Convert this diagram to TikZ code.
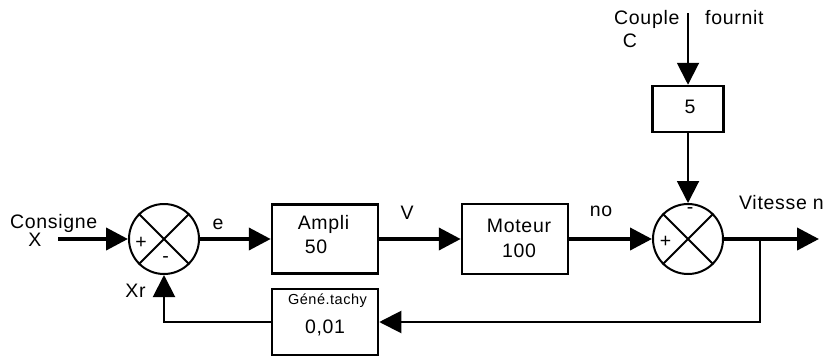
\documentclass[tikz,border=0pt]{standalone}
\usepackage{fontspec}
\setmainfont[LetterSpace=3.5]{Liberation Sans}
\usetikzlibrary{arrows.meta}
\begin{document}
\begin{tikzpicture}[x=1pt,y=-1pt,
  every node/.style={font=\fontsize{19.5}{22}\selectfont, inner sep=0pt},
  blk/.style={draw, line width=2.5pt, rectangle},
  summ/.style={draw, circle, line width=2pt, minimum size=70pt},
  thickline/.style={line width=4pt, -{Triangle[length=22pt,width=22pt]}},
  thinline/.style={line width=2pt, -{Triangle[length=22pt,width=22pt]}},
  lbl/.style={anchor=base},
  smalllbl/.style={anchor=base, font=\fontsize{14.5}{17}\selectfont}]
\useasboundingbox (0,0) rectangle (826,356);

% blocks
\node[blk, minimum width=106pt, minimum height=69pt] (ampli) at (325,239) {};
\node[blk, minimum width=106pt, minimum height=70pt] (moteur) at (515,239) {};
\node[blk, minimum width=71pt, minimum height=46pt] (b5) at (688,109) {};
\node[blk, minimum width=106pt, minimum height=66pt] (gene) at (325,322) {};

% summators
\node[summ] (s1) at (164,239) {};
\draw[line width=2pt] (s1.45) -- (s1.225) (s1.135) -- (s1.315);
\node[summ] (s2) at (688,239) {};
\draw[line width=2pt] (s2.45) -- (s2.225) (s2.135) -- (s2.315);

% coordinates
\coordinate (in) at (58,239);
\coordinate (out) at (819,239);
\coordinate (br) at (760,239);
\coordinate (ctop) at (688,13);

% connectors
\draw[thickline] (in) -- (s1.west);
\draw[thickline] (s1.east) -- (ampli.west);
\draw[thickline] (ampli.east) -- (moteur.west);
\draw[thickline] (moteur.east) -- (s2.west);
\draw[thickline] (s2.east) -- (out);
\draw[thinline] (ctop) -- (b5.north);
\draw[thinline] (b5.south) -- (s2.north);
\draw[thinline] (br) |- (gene.east);
\draw[thinline] (gene.west) -| (s1.south);

% labels
\node[lbl, anchor=base west] (tcons) at (10,228) {Consigne};
\node[lbl] (tx) at (35,246) {X};
\node[lbl] (te) at (218,229) {e};
\node[lbl] (txr) at (135.5,297) {Xr};
\node[lbl] (tampli) at (323.5,229) {Ampli};
\node[lbl] (t50) at (316,253) {50};
\node[lbl] (tv) at (407,219) {V};
\node[lbl] (tmot) at (519,232) {Moteur};
\node[lbl] (t100) at (519,257) {100};
\node[smalllbl] (tgene) at (327.5,304) {Géné.tachy};
\node[lbl] (t001) at (325,333) {0,01};
\node[lbl] (tno) at (601,216) {no};
\node[lbl, anchor=base east] (tvit) at (824,209) {Vitesse n};
\node[lbl, anchor=base west] (tcouple) at (614,24) {Couple};
\node[lbl] (tc) at (630,47) {C};
\node[lbl, anchor=base west] (tfour) at (705,24) {fournit};
\node[lbl] (t5) at (690,113) {5};
\node (p1) at (141,243) {+};
\node (m1) at (165.5,260) {-};
\node (p2) at (665.5,242) {+};
\node (m2) at (690,211) {-};
\end{tikzpicture}
\end{document}
